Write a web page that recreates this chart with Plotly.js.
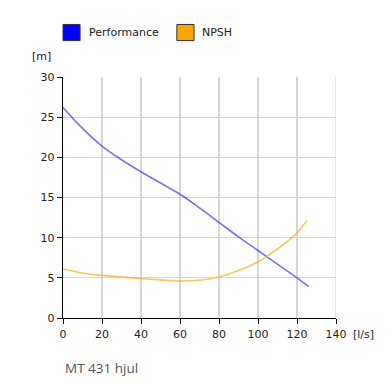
<!DOCTYPE html>
<html><head><meta charset="utf-8">
<script src="https://cdn.plot.ly/plotly-3.0.1.min.js"></script>
<style>html,body{margin:0;padding:0;background:#fff;}#chart{width:392px;height:384px;}</style>
</head><body><div id="chart"></div>
<script>
const flow = [0, 10, 20, 30, 40, 50, 60, 70, 80, 90, 100, 110, 120, 126];
const performance = [26.2, 23.6, 21.4, 19.7, 18.2, 16.8, 15.4, 13.7, 11.9, 10.1, 8.4, 6.7, 5.0, 3.9];
const npshFlow = [0, 10, 20, 30, 40, 50, 60, 70, 80, 90, 100, 110, 120, 125];
const npsh = [6.1, 5.6, 5.3, 5.1, 4.9, 4.75, 4.6, 4.7, 5.1, 5.9, 7.0, 8.6, 10.6, 12.1];
const seriesNames = ["Performance", "NPSH"];
const xTicks = [0, 20, 40, 60, 80, 100, 120, 140];
const yTicks = [0, 5, 10, 15, 20, 25, 30];
const xUnit = "[l/s]";
const yUnit = "[m]";
const chartTitle = "MT 431 hjul";

const font = {family: "DejaVu Sans, Verdana, sans-serif", size: 11, color: "#222"};
const traces = [
  {x: flow, y: performance, name: seriesNames[0], mode: "lines", line: {color: "rgba(40,40,255,0.65)", width: 1.6, shape: "spline", smoothing: 1}, showlegend: false, hoverinfo: "skip"},
  {x: npshFlow, y: npsh, name: seriesNames[1], mode: "lines", line: {color: "rgba(255,170,20,0.7)", width: 1.6, shape: "spline", smoothing: 0.8}, showlegend: false, hoverinfo: "skip"}
];
const layout = {
  width: 392, height: 384,
  margin: {l: 63, r: 56, t: 77, b: 66},
  paper_bgcolor: "#fff", plot_bgcolor: "#fff",
  font: font,
  showlegend: false,
  xaxis: {range: [0, 140], tickvals: xTicks, ticks: "outside", ticklen: 5, tickcolor: "#000",
    showline: true, linecolor: "#000", linewidth: 1.3, gridcolor: "#d6d6d6", gridwidth: 1.2,
    zeroline: false, mirror: false, fixedrange: true, tickfont: font},
  yaxis: {range: [0, 30], tickvals: yTicks, ticks: "outside", ticklen: 5, tickcolor: "#000",
    showline: true, linecolor: "#000", linewidth: 1.3, gridcolor: "#d6d6d6", gridwidth: 1.2,
    zeroline: false, fixedrange: true, tickfont: font},
  shapes: [
    {type: "line", xref: "x", yref: "paper", x0: 140, x1: 140, y0: 0, y1: 1, line: {color: "#d6d6d6", width: 1.2}},
    {type: "rect", xref: "paper", yref: "paper", x0: 0.0, x1: 0.0626, y0: 1.151, y1: 1.218, fillcolor: "#0000ff", line: {color: "#333", width: 1}},
    {type: "rect", xref: "paper", yref: "paper", x0: 0.417, x1: 0.48, y0: 1.151, y1: 1.218, fillcolor: "#ffa500", line: {color: "#333", width: 1}}
  ],
  annotations: [
    {text: seriesNames[0], xref: "paper", yref: "paper", x: 0.088, y: 1.186, xanchor: "left", yanchor: "middle", showarrow: false, font: font},
    {text: seriesNames[1], xref: "paper", yref: "paper", x: 0.502, y: 1.186, xanchor: "left", yanchor: "middle", showarrow: false, font: font},
    {text: yUnit, xref: "paper", yref: "paper", x: -0.035, y: 1.083, xanchor: "right", yanchor: "middle", showarrow: false, font: font},
    {text: xUnit, xref: "paper", yref: "paper", x: 1.055, y: -0.07, xanchor: "left", yanchor: "middle", showarrow: false, font: font},
    {text: chartTitle, xref: "paper", yref: "paper", x: 0.0, y: -0.208, xanchor: "left", yanchor: "middle", showarrow: false, font: {family: "Open Sans, sans-serif", size: 13.5, color: "#555"}}
  ]
};
Plotly.newPlot("chart", traces, layout, {staticPlot: true, displayModeBar: false});
</script></body></html>
